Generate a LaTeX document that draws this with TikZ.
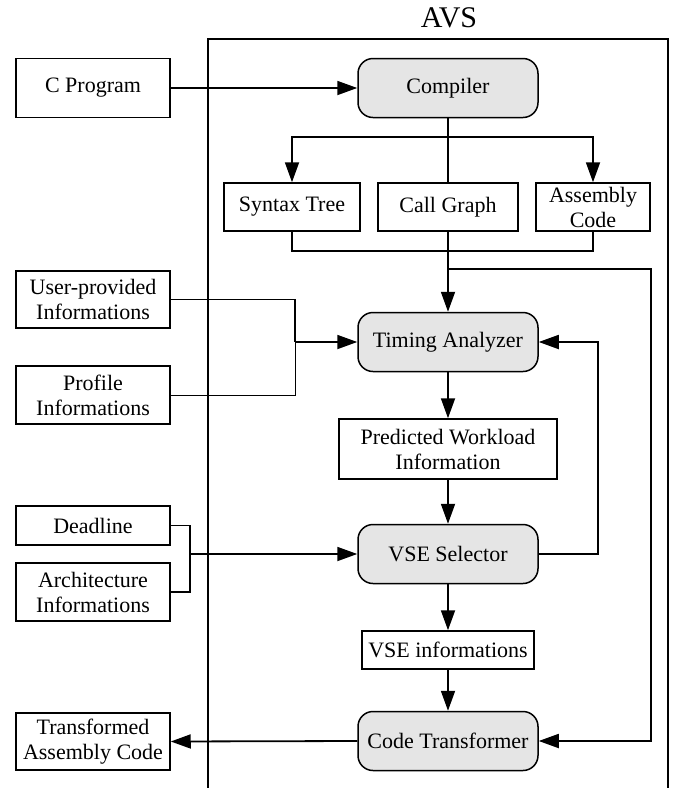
\documentclass[tikz,border=0pt]{standalone}
\usepackage{fontspec}
\setmainfont{Liberation Serif}
\usetikzlibrary{arrows.meta}
\begin{document}
\begin{tikzpicture}[x=0.5pt,y=-0.5pt,
  every node/.style={font=\fontsize{11}{12.5}\selectfont, align=center, inner sep=0pt},
  box/.style={draw, line width=0.75pt, rectangle},
  proc/.style={draw, line width=0.75pt, rectangle, rounded corners=7.5pt, fill=procgray, minimum width=90pt, minimum height=29.5pt},
  side/.style={box, minimum width=77pt},
  conn/.style={line width=0.9pt},
  thinconn/.style={line width=0.5pt},
  arr/.style={conn, -{Triangle[length=10pt,width=7pt]}}
]
\definecolor{procgray}{RGB}{229,229,229}
\useasboundingbox (0,0) rectangle (677,788);
% frame
\draw[line width=0.75pt] (208,788) -- (208,39) -- (668,39) -- (668,788);
\node[font=\fontsize{15}{18}\selectfont] (avs) at (449,18) {AVS};
% nodes
\node[side, minimum height=29.5pt] (cp) at (93,88) {C Program};
\node[proc] (comp) at (448,88) {Compiler};
\node[box, minimum width=68pt, minimum height=24pt] (syn) at (292,207) {Syntax Tree};
\node[box, minimum width=70pt, minimum height=24pt] (cg) at (448,207) {Call Graph};
\node[box, minimum width=57pt, minimum height=24pt] (asm) at (593,207) {Assembly\\Code};
\node[side, minimum height=28.5pt] (user) at (93,299.5) {User-provided\\Informations};
\node[side, minimum height=29pt] (prof) at (93,395) {Profile\\Informations};
\node[proc] (ta) at (448,342) {Timing Analyzer};
\node[box, minimum width=109pt, minimum height=30pt] (pw) at (448,449) {Predicted Workload\\Information};
\node[side, minimum height=19.5pt] (dl) at (93,525.5) {Deadline};
\node[side, minimum height=29pt] (arch) at (93,592) {Architecture\\Informations};
\node[proc] (vse) at (448,554) {VSE Selector};
\node[box, minimum width=86pt, minimum height=19pt] (vi) at (448,650) {VSE informations};
\node[proc] (ct) at (448,741) {Code Transformer};
\node[side, minimum height=28.5pt] (tr) at (93,741.5) {Transformed\\Assembly Code};
% helper coordinates
\coordinate (br) at (448,137);
\coordinate (rt) at (651,269);
\coordinate (j1) at (295,342);
\coordinate (j2) at (190,554);
% connectors
\draw[arr] (cp.east) -- (comp.west);
\draw[conn] (comp.south) -- (cg.north);
\draw[arr] (br) -| (syn.north);
\draw[arr] (br) -| (asm.north);
\draw[conn] (syn.south) -- ++(0,19) -| (asm.south);
\draw[arr] (cg.south) -- (ta.north);
\draw[arr] (ta.north |- rt) -- (rt) |- (ct.east);
\draw[conn] (user.east) -| (j1);
\draw[thinconn] (prof.east) -| (j1);
\draw[arr] (j1) -- (ta.west);
\draw[arr] (ta.south) -- (pw.north);
\draw[arr] (pw.south) -- (vse.north);
\draw[conn] (dl.east) -| (j2);
\draw[conn] (arch.east) -| (j2);
\draw[arr] (j2) -- (vse.west);
\draw[arr] (vse.east) -- ++(59,0) |- (ta.east);
\draw[arr] (vse.south) -- (vi.north);
\draw[arr] (vi.south) -- (ct.north);
\draw[arr] (ct.west) -- (tr.east);
\end{tikzpicture}
\end{document}
